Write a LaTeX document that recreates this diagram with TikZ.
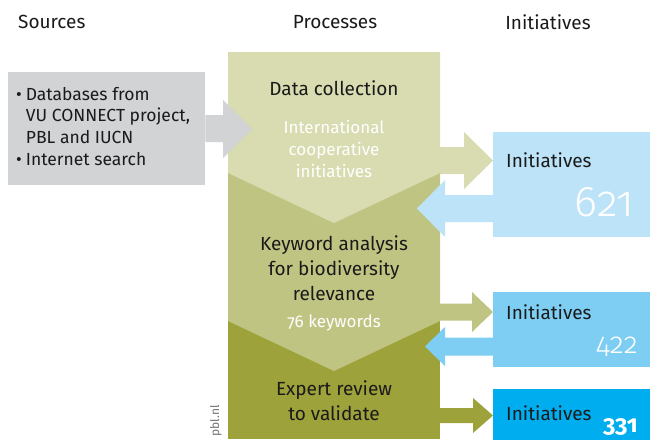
\documentclass[tikz,border=0pt]{standalone}
\usepackage{fontspec}
\setmainfont{Fira Sans}
\newfontfamily\lightnum[Numbers=OldStyle]{Fira Sans Light}
\newfontfamily\regnum[Numbers=OldStyle]{Fira Sans}
\definecolor{srcgrey}{HTML}{D1D3D4}
\definecolor{secA}{HTML}{D8DCB0}
\definecolor{secB}{HTML}{C0C482}
\definecolor{secC}{HTML}{9EA23A}
\definecolor{blueA}{HTML}{BDE3F8}
\definecolor{blueB}{HTML}{7ECEF3}
\definecolor{blueC}{HTML}{00AEEF}
\definecolor{txt}{HTML}{1A1A1A}
\tikzset{
  hdr/.style={inner sep=0pt, text=txt, font=\fontsize{19}{22}\selectfont},
  procblack/.style={inner sep=0pt, text=txt, align=center, font=\fontsize{19}{25}\selectfont},
  procwhite/.style={inner sep=0pt, text=white, align=center, font=\regnum\fontsize{17}{22}\selectfont},
  initlbl/.style={inner sep=0pt, text=txt, anchor=west, font=\fontsize{19}{22}\selectfont},
  bignum/.style={inner sep=0pt, text=white, anchor=base east},
}
\begin{document}
\begin{tikzpicture}[x=1pt,y=-1pt]
\useasboundingbox (0,0) rectangle (650,439);
\clip (0,0) rectangle (650,439);
% headers
\node[hdr, anchor=west] (hs) at (18,22) {Sources};
\node[hdr] (hp) at (335,22) {Processes};
\node[hdr] (hi) at (548,22) {Initiatives};
% sources box
\node[fill=srcgrey, inner sep=0pt, minimum width=197pt, minimum height=113pt, anchor=north west] (src) at (8,72) {};
\node[inner sep=0pt, anchor=west, text=txt, font=\fontsize{17.5}{21.7}\selectfont] (srctext) at (16,128.5)
 {\begin{tabular}{@{}l@{\hspace{4pt}}l@{}}
 • & Databases from\\
   & VU CONNECT project,\\
   & PBL and IUCN\\
 • & Internet search
 \end{tabular}};
% process column
\fill[secC] (228,321) rectangle (440,439);
\fill[secB] (228,173) -- (440,173) -- (440,321) -- (334,371) -- (228,321) -- cycle;
\fill[secA] (228,52) -- (440,52) -- (440,173) -- (334,223) -- (228,173) -- cycle;
% grey arrow
\fill[srcgrey] (src.east |- 0,115) -- (223,115) -- (223,100) -- (252,129) -- (223,158) -- (223,142) -- (src.east |- 0,142) -- cycle;
% process texts
\node[procblack] (p1) at (334,88) {Data collection};
\node[procwhite] (p1w) at (334,149) {International\\cooperative\\initiatives};
\node[procblack] (p2) at (334,268) {Keyword analysis\\for biodiversity\\relevance};
\node[procwhite] (p2w) at (334,323) {76 keywords};
\node[procblack] (p3) at (334,400.5) {Expert review\\to validate};
% initiative boxes
\node[fill=blueA, inner sep=0pt, minimum width=157pt, minimum height=105pt, anchor=north west] (i1) at (493,132) {};
\node[fill=blueB, inner sep=0pt, minimum width=157pt, minimum height=75pt, anchor=north west] (i2) at (493,292) {};
\node[fill=blueC, inner sep=0pt, minimum width=157pt, minimum height=60pt, anchor=north west] (i3) at (493,389) {};
\node[initlbl] (l1) at (506,160) {Initiatives};
\node[initlbl] (l2) at (506,312) {Initiatives};
\node[initlbl] (l3) at (506,413) {Initiatives};
\node[bignum, font=\lightnum\fontsize{43}{46}\selectfont] (n1) at (634,216) {621};
\node[bignum, font=\lightnum\fontsize{29}{32}\selectfont] (n2) at (638,353) {422};
\node[bignum, font=\regnum\bfseries\fontsize{24}{26}\selectfont] (n3) at (638,432) {331};
% right arrows (green)
\fill[secA] (440,147) -- (464,147) -- (464,132) -- (493,160.5) -- (464,189) -- (464,174) -- (440,174) -- cycle;
\fill[secB] (440,303.5) -- (472,303.5) -- (472,292) -- (493,312) -- (472,332) -- (472,320.5) -- (440,320.5) -- cycle;
\fill[secC] (440,408) -- (473,408) -- (473,398) -- (493,415.5) -- (473,433) -- (473,423) -- (440,423) -- cycle;
% left arrows (blue)
\fill[blueA] (i1.west |- 0,195) -- (445,195) -- (445,180) -- (417,208.5) -- (445,237) -- (445,222) -- (i1.west |- 0,222) -- cycle;
\fill[blueB] (i2.west |- 0,337.5) -- (445,337.5) -- (445,327) -- (425,346.5) -- (445,366) -- (445,355.5) -- (i2.west |- 0,355.5) -- cycle;
% credit
\node[inner sep=0pt, rotate=90, anchor=east, text=black!55, font=\fontsize{12}{14}\selectfont] (pbl) at (216,405) {pbl.nl};
\end{tikzpicture}
\end{document}
